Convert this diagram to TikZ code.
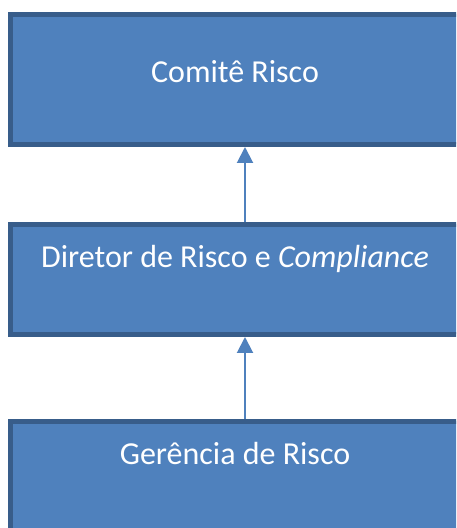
\documentclass[tikz,border=0pt]{standalone}
\usepackage{fontspec}
\setmainfont{Carlito}
\usetikzlibrary{positioning,arrows.meta}
\definecolor{BoxFill}{HTML}{4F81BD}
\definecolor{BoxLine}{HTML}{385D8A}
\tikzset{
  riskbox/.style={draw=BoxLine, fill=BoxFill, line width=5pt, minimum width=489pt, inner sep=0pt},
  boxtext/.style={anchor=base, text=white, font=\fontsize{32}{38}\selectfont},
  uparrow/.style={draw=BoxFill, line width=2pt, -{Triangle[length=16pt,width=16pt]}}
}
\begin{document}
\begin{tikzpicture}[x=1pt,y=1pt]
  \useasboundingbox (0,0) rectangle (456,528);
  \clip (0,0) rectangle (456,528);
  \fill[white] (0,0) rectangle (456,528);
  % the three levels
  \node[riskbox, minimum height=130pt] (comite) at (255,448.5) {};
  \node[riskbox, minimum height=110pt] (diretor) at (255,248.5) {};
  \node[riskbox, minimum height=130pt] (gerencia) at (255,41.5) {};
  \node[boxtext] (comitetxt) at (235,445) {Comitê Risco};
  \node[boxtext] (diretortxt) at (235,260) {Diretor de Risco e \textit{Compliance}};
  \node[boxtext] (gerenciatxt) at (235,63) {Gerência de Risco};
  % reporting lines
  \draw[uparrow] ([xshift=-10pt]diretor.north) -- ([xshift=-10pt]comite.south);
  \draw[uparrow] ([xshift=-10pt]gerencia.north) -- ([xshift=-10pt]diretor.south);
\end{tikzpicture}
\end{document}
